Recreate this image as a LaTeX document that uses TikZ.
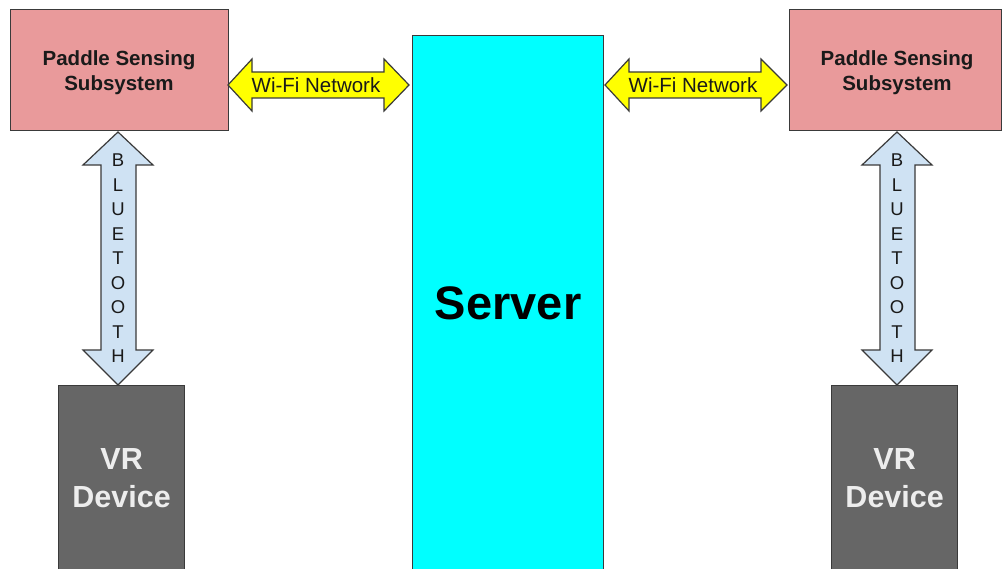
\documentclass[tikz,border=0pt]{standalone}
\usepackage{fontspec}
\setmainfont{Liberation Sans}
\definecolor{pinkbox}{HTML}{E99A9B}
\definecolor{serverc}{HTML}{00FFFF}
\definecolor{vrgray}{HTML}{666666}
\definecolor{wifiy}{HTML}{FFFF00}
\definecolor{btblue}{HTML}{CFE2F3}
\definecolor{edge}{HTML}{3A3A3A}
\definecolor{txt}{HTML}{1A1A1A}
\begin{document}
\begin{tikzpicture}[x=1pt,y=-1pt,
  block/.style={draw=edge, line width=1.3pt, inner sep=0pt, anchor=north west, align=center},
  psbox/.style={block, fill=pinkbox, minimum height=121pt},
  pstext/.style={text=txt, align=center, inner sep=0pt, font=\fontsize{20.5}{25}\selectfont\bfseries},
  vrbox/.style={block, fill=vrgray, text=white!93!black, minimum width=126pt, minimum height=186pt,
    font=\fontsize{30.5}{38}\selectfont\bfseries},
  srvbox/.style={block, fill=serverc, text=black, minimum width=191pt, minimum height=536pt,
    font=\fontsize{47}{50}\selectfont\bfseries},
  wifiarrow/.style={draw=edge, line width=1.2pt, fill=wifiy, line join=miter},
  btarrow/.style={draw=edge, line width=1.2pt, fill=btblue, line join=miter},
  wifitext/.style={font=\fontsize{20.5}{24}\selectfont, text=txt, inner sep=0pt},
  bttext/.style={font=\fontsize{18.5}{24.5}\selectfont, text=txt, align=center, inner sep=0pt}
]
\useasboundingbox (0,0) rectangle (1004,569);
\fill[white] (0,0) rectangle (1004,569);

% boxes
\node[psbox, minimum width=218pt] (psL) at (10,9) {};
\node[pstext] (psLt) at (119,72.5) {Paddle Sensing\\Subsystem};
\node[psbox, minimum width=212pt] (psR) at (789,9) {};
\node[pstext] (psRt) at (897,72.5) {Paddle Sensing\\Subsystem};
\node[srvbox] (server) at (412,35) {Server};
\node[vrbox] (vrL) at (58,385) {VR\\Device};
\node[vrbox] (vrR) at (831,385) {VR\\Device};

% Wi-Fi double arrows
\draw[wifiarrow] (228,85) -- (252,59) -- (252,72) -- (384,72) -- (384,59) -- (409,85)
  -- (384,111) -- (384,98) -- (252,98) -- (252,111) -- cycle;
\node[wifitext] (wifiL) at (316,85) {Wi-Fi Network};
\draw[wifiarrow] (605,85) -- (629,59) -- (629,72) -- (761,72) -- (761,59) -- (787,85)
  -- (761,111) -- (761,98) -- (629,98) -- (629,111) -- cycle;
\node[wifitext] (wifiR) at (693,85) {Wi-Fi Network};

% Bluetooth double arrows
\draw[btarrow] (118,132) -- (153,165) -- (136,165) -- (136,350) -- (153,350) -- (118,385)
  -- (83,350) -- (101,350) -- (101,165) -- (83,165) -- cycle;
\node[bttext] (btL) at (118,258.5) {B\\L\\U\\E\\T\\O\\O\\T\\H};
\draw[btarrow] (897,132) -- (932,165) -- (915,165) -- (915,350) -- (932,350) -- (897,385)
  -- (862,350) -- (880,350) -- (880,165) -- (862,165) -- cycle;
\node[bttext] (btR) at (897,258.5) {B\\L\\U\\E\\T\\O\\O\\T\\H};
\end{tikzpicture}
\end{document}
